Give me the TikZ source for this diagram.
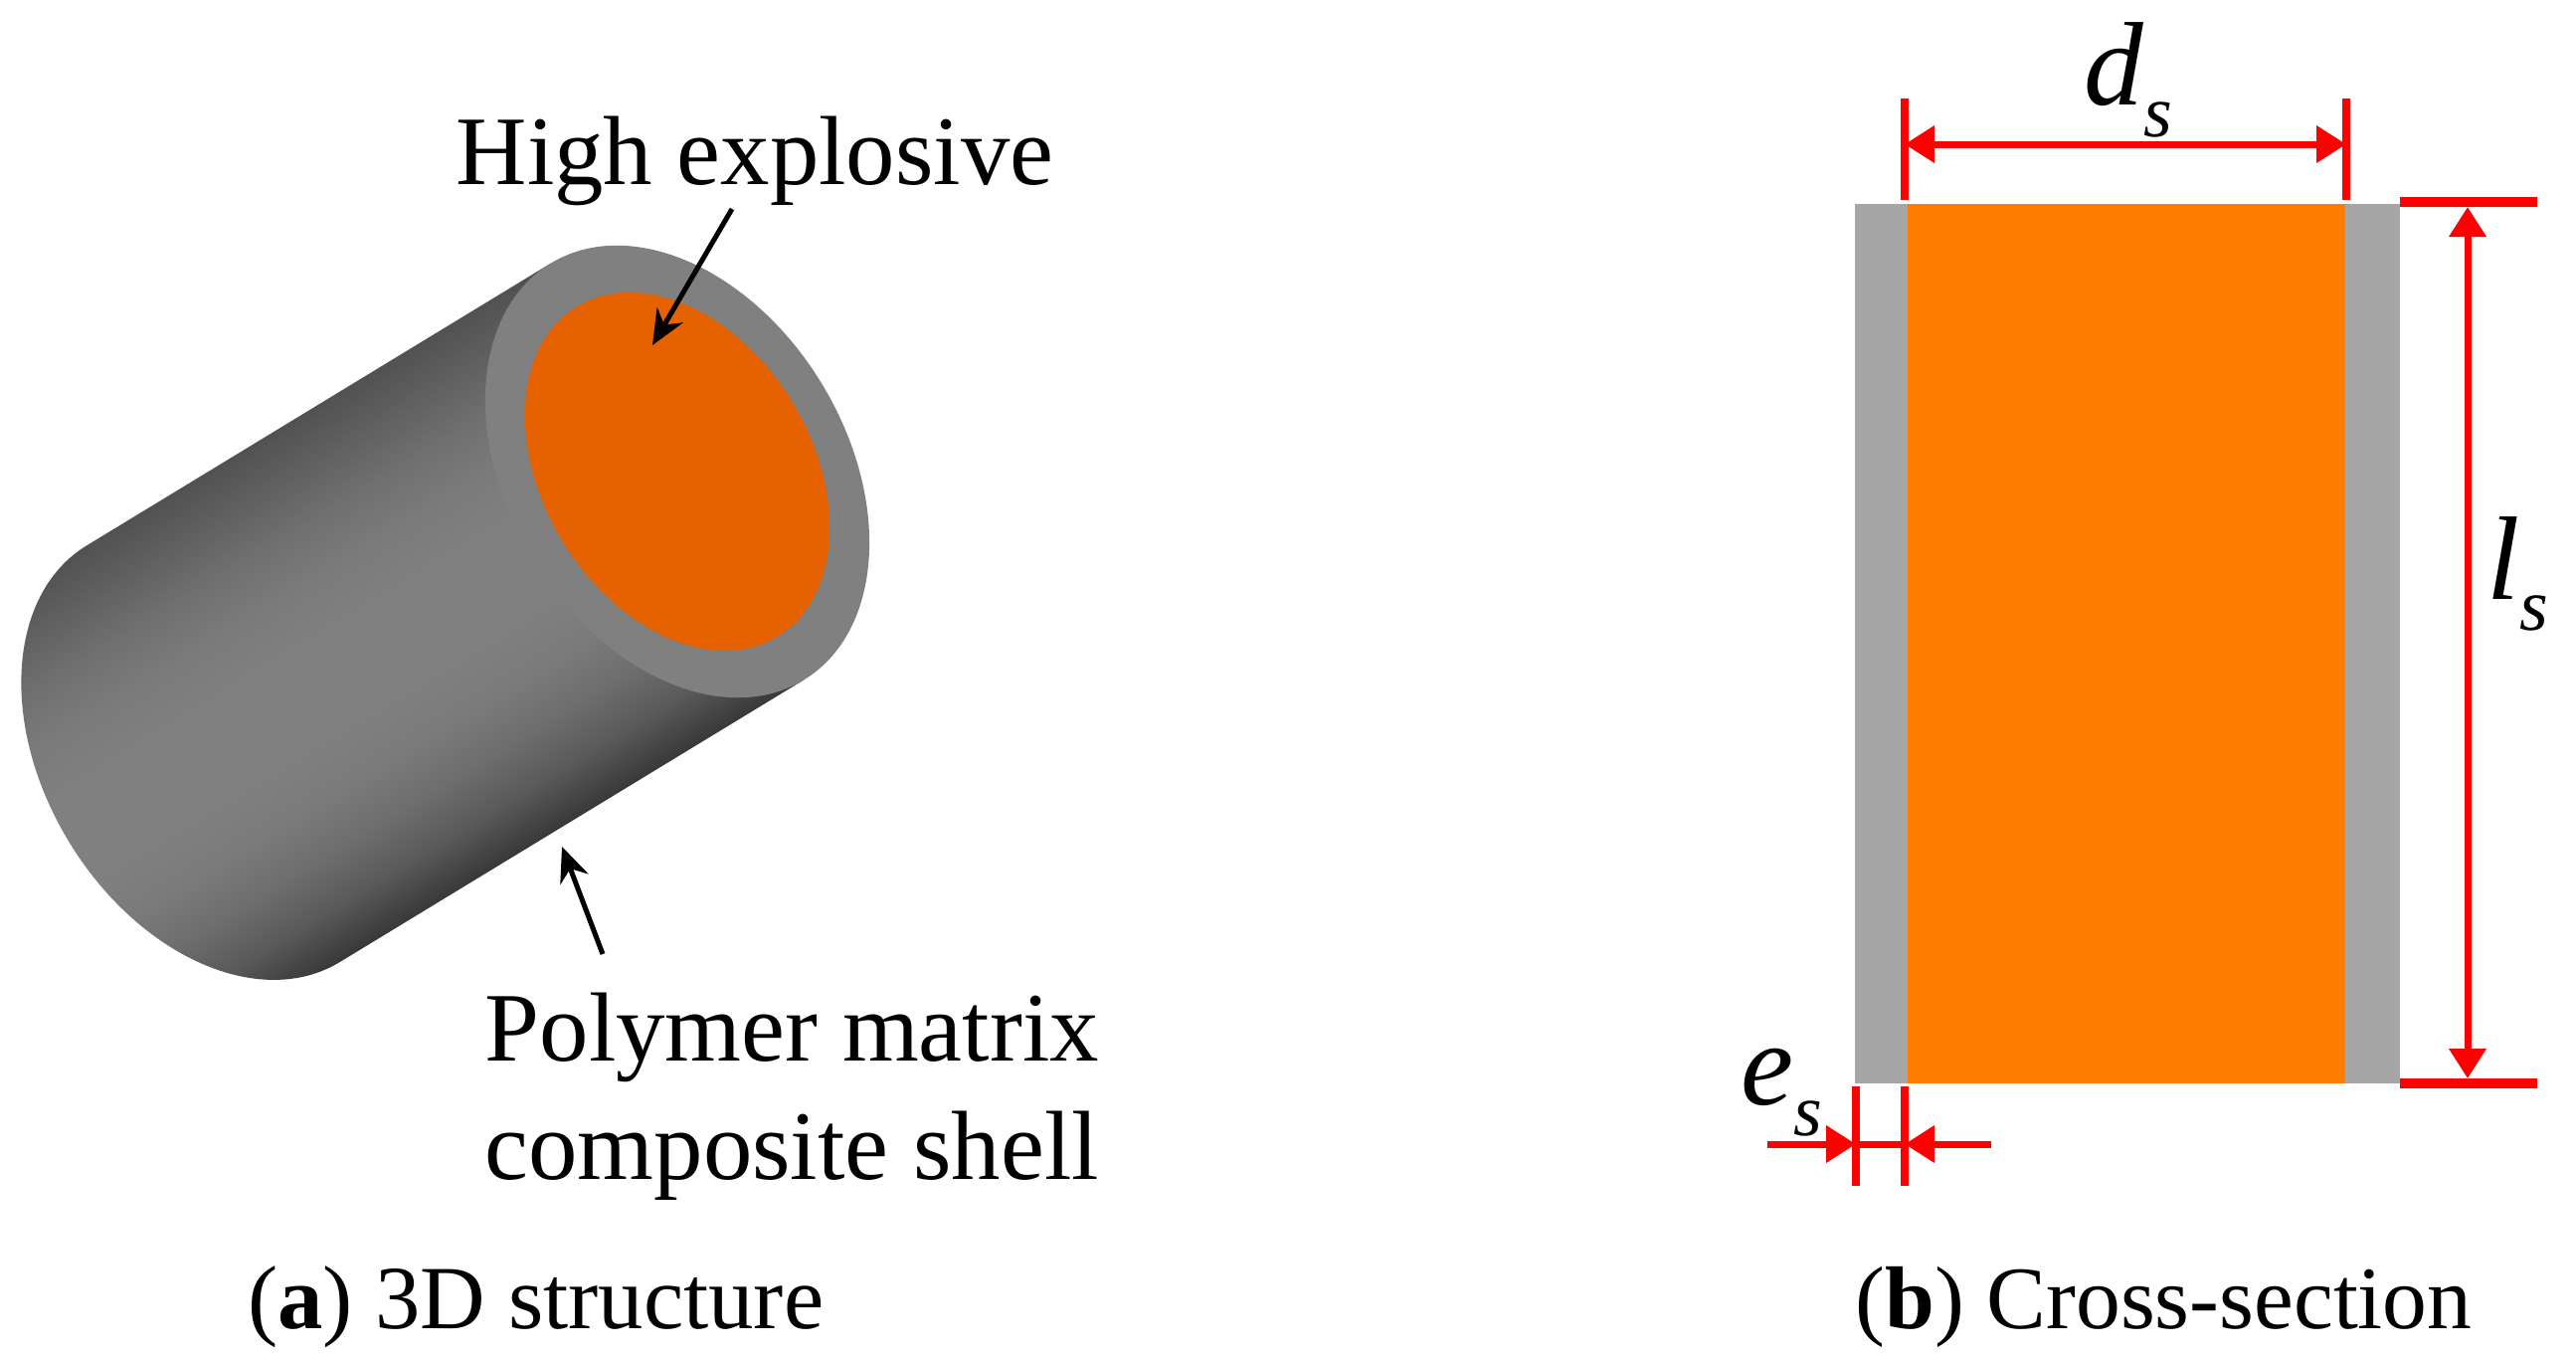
\documentclass[tikz,border=0pt]{standalone}
\usepackage{fontspec}
\setmainfont{Liberation Serif}
\usetikzlibrary{arrows.meta}
\definecolor{ringgray}{HTML}{808080}
\definecolor{coregold}{HTML}{E66100}
\definecolor{secgray}{HTML}{A6A6A6}
\definecolor{secorange}{HTML}{FF7C00}
\pgfdeclarehorizontalshading{tubeshade}{100bp}{
  color(0bp)=(black!68); color(25bp)=(black!68); color(30bp)=(black!62);
  color(35bp)=(black!56); color(40bp)=(black!52); color(45bp)=(black!50);
  color(55bp)=(black!50); color(60bp)=(black!52); color(65bp)=(black!57);
  color(70bp)=(black!65); color(75bp)=(black!78); color(100bp)=(black!78)}
\tikzset{
  bigtext/.style={anchor=base west, inner sep=0pt, font=\fontsize{28.1}{32}\selectfont},
  captext/.style={anchor=base west, inner sep=0pt, font=\fontsize{25.8}{30}\selectfont},
  capnarrow/.style={captext, font=\fontsize{25.5}{30}\selectfont},
  symtext/.style={anchor=base west, inner sep=0pt, font=\fontsize{34}{38}\selectfont\itshape},
  blackarrow/.style={-{Stealth[length=3.5mm,width=3mm]}, line width=0.05cm},
  redtick/.style={red, line width=0.08cm},
  redbar/.style={red, line width=0.095cm},
  redarrow/.style={red, line width=0.07cm},
  redhead/.style={{Stealth[length=3mm,width=3.6mm,inset=0pt]}-{Stealth[length=3mm,width=3.6mm,inset=0pt]}}
}
\newcommand{\symsub}[2]{#1\raisebox{-0.26em}{\fontsize{21}{24}\selectfont #2}}
\begin{document}
\begin{tikzpicture}
\useasboundingbox (0,0) rectangle (25.9,13.64);

% 3D shell
\begin{scope}[transform canvas={shift={(6.81,8.90)},rotate=-58.7}]
\clip (2.45,0) -- (2.45,-5.46) arc[start angle=0,end angle=-180,x radius=2.45,y radius=1.70] -- (-2.45,0) -- cycle;
\shade[shading=tubeshade] (-2.45,-7.4) rectangle (2.45,0.2);
\end{scope}
\begin{scope}[shift={(6.81,8.90)},rotate=-58.7]
\fill[ringgray] (0,0) ellipse[x radius=2.45,y radius=1.70];
\fill[coregold] (0,0) ellipse[x radius=1.94,y radius=1.35];
\end{scope}

\node[bigtext] (T1) at (4.58,11.79) {High explosive};
\node[bigtext] (T2) at (4.87,2.98) {Polymer matrix};
\node[bigtext] (T3) at (4.87,1.79) {composite shell};
\node[captext] (C1) at (2.485,0.29) {(\textbf{a}) 3D structure};
\node[capnarrow] (C2) at (18.65,0.29) {(\textbf{b}) Cross-section};

\coordinate (H1) at (7.36,11.54);
\coordinate (H2) at (6.56,10.17);
\coordinate (P1) at (6.06,4.05);
\coordinate (P2) at (5.65,5.13);
\draw[blackarrow] (H1) -- (H2);
\draw[blackarrow] (P1) -- (P2);

% cross-section
\fill[secgray] (18.65,2.75) rectangle (24.13,11.59);
\fill[secorange] (19.18,2.75) rectangle (23.58,11.59);

% dimension d
\coordinate (D1) at (19.15,12.65);
\coordinate (D2) at (19.15,11.63);
\coordinate (D3) at (23.59,12.65);
\coordinate (D4) at (23.59,11.63);
\coordinate (D5) at (19.15,12.19);
\coordinate (D6) at (23.59,12.19);
\draw[redtick] (D1) -- (D2);
\draw[redtick] (D3) -- (D4);
\draw[redarrow,redhead] (D5) -- (D6);
\node[symtext] (LD) at (20.95,12.58) {\symsub{d}{s}};

% dimension l
\coordinate (L1) at (24.13,11.61);
\coordinate (L2) at (25.51,11.61);
\coordinate (L3) at (24.13,2.75);
\coordinate (L4) at (25.51,2.75);
\coordinate (L5) at (24.81,11.56);
\coordinate (L6) at (24.81,2.80);
\draw[redbar] (L1) -- (L2);
\draw[redbar] (L3) -- (L4);
\draw[redarrow,redhead] (L5) -- (L6);
\node[symtext] (LL) at (25.00,7.62) {\symsub{l}{s}};

% dimension e
\coordinate (E1) at (18.66,2.72);
\coordinate (E2) at (18.66,1.72);
\coordinate (E3) at (19.15,2.72);
\coordinate (E4) at (19.15,1.72);
\coordinate (E5) at (17.77,2.14);
\coordinate (E6) at (18.66,2.14);
\coordinate (E7) at (20.02,2.14);
\coordinate (E8) at (19.15,2.14);
\draw[redtick] (E1) -- (E2);
\draw[redtick] (E3) -- (E4);
\draw[redarrow] (E6) -- (E8);
\draw[redarrow,-{Stealth[length=3mm,width=3.6mm,inset=0pt]}] (E5) -- (E6);
\draw[redarrow,-{Stealth[length=3mm,width=3.6mm,inset=0pt]}] (E7) -- (E8);
\node[symtext] (LE) at (17.50,2.54) {\symsub{e}{s}};
\end{tikzpicture}
\end{document}
